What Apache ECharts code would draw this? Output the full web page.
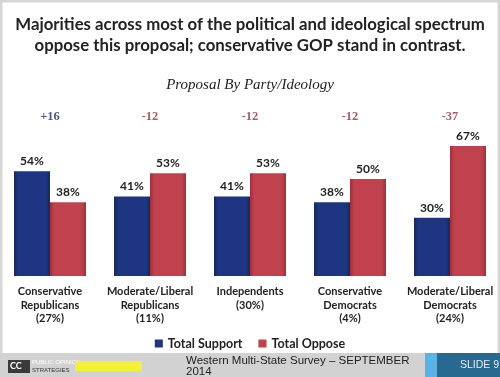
<!DOCTYPE html>
<html lang="en">
<head>
    <meta charset="UTF-8">
    <title>Proposal By Party/Ideology</title>
    <script src="https://cdn.jsdelivr.net/npm/echarts@6/dist/echarts.min.js"></script>
    <style>
        html, body { margin: 0; padding: 0; background: #fff; }
        #main { width: 500px; height: 377px; }
    </style>
</head>
<body>
<div id="main"></div>
<script>
    // 数据
    var categories = ['Conservative\nRepublicans\n(27%)', 'Moderate/Liberal\nRepublicans\n(11%)', 'Independents\n(30%)', 'Conservative\nDemocrats\n(4%)', 'Moderate/Liberal\nDemocrats\n(24%)'];
    var supportVals = [54, 41, 41, 38, 30];
    var opposeVals = [38, 53, 53, 50, 67];
    var diffVals = [16, -12, -12, -12, -37];
    var diffRow = [82, 82, 82, 82, 82];   // 差值标签所在高度

    var blueCol = '#1e3681';
    var redCol = '#c0424f';

    var myChart = echarts.init(document.getElementById('main'));

    function barColor(c1, c2) {
        return new echarts.graphic.LinearGradient(0, 0, 1, 0, [
            {offset: 0, color: c2},
            {offset: 0.12, color: c1},
            {offset: 0.88, color: c1},
            {offset: 1, color: c2}
        ]);
    }

    // 差值标签数据
    var diffData = diffRow.map(function (v, i) {
        return {
            value: v,
            label: {color: diffVals[i] > 0 ? '#1f2d66' : '#93303d'}
        };
    });

    var option = {
        animation: false,
        backgroundColor: '#fff',
        title: [
            {
                text: 'Majorities across most of the political and ideological spectrum\noppose this proposal; conservative GOP stand in contrast.',
                left: 'center', top: 9,
                textStyle: {fontFamily: 'Lato', fontWeight: 'bold', fontSize: 16.8, color: '#222', lineHeight: 21}
            },
            {
                text: 'Proposal By Party/Ideology',
                left: 'center', top: 73,
                textStyle: {fontFamily: 'Liberation Serif', fontStyle: 'italic', fontWeight: 'normal', fontSize: 15, color: '#222'}
            }
        ],
        legend: {
            top: 332, left: 'center',
            itemWidth: 8, itemHeight: 8, itemGap: 16,
            icon: 'rect',
            data: ['Total Support', 'Total Oppose'],
            textStyle: {fontFamily: 'Lato', fontWeight: 'bold', fontSize: 12.5, color: '#222'}
        },
        grid: {left: 0, right: 0, top: 82, bottom: 101},
        xAxis: {
            type: 'category',
            data: categories,
            axisLine: {show: false},
            axisTick: {show: false},
            axisLabel: {
                margin: 9, fontFamily: 'Lato', fontWeight: 'bold', fontSize: 11,
                color: '#222', lineHeight: 13.5, interval: 0
            }
        },
        yAxis: {
            type: 'value', min: 0, max: 100, show: false,
            splitLine: {show: false}
        },
        series: [
            {
                name: 'Total Support', type: 'bar', data: supportVals,
                barWidth: 36, barGap: '0%',
                itemStyle: {color: barColor(blueCol, '#14285f')},
                label: {show: true, position: 'top', distance: 4, formatter: '{c}%',
                    fontFamily: 'Lato', fontWeight: 'bold', fontSize: 12, color: '#222'}
            },
            {
                name: 'Total Oppose', type: 'bar', data: opposeVals,
                barWidth: 36, barGap: '0%',
                itemStyle: {color: barColor(redCol, '#9c2f3b')},
                label: {show: true, position: 'top', distance: 4, formatter: '{c}%',
                    fontFamily: 'Lato', fontWeight: 'bold', fontSize: 12, color: '#222'}
            },
            {
                type: 'scatter', data: diffData, symbolSize: 0, silent: true,
                label: {
                    show: true, position: 'inside',
                    fontFamily: 'Liberation Serif', fontWeight: 'bold', fontSize: 12.5,
                    formatter: function (p) {
                        var d = diffVals[p.dataIndex];
                        return d > 0 ? '+' + d : '' + d;
                    }
                }
            }
        ],
        graphic: [
            // 边框
            {type: 'rect', shape: {x: 0, y: 0, width: 500, height: 377}, style: {fill: 'none', stroke: '#d6d6d6', lineWidth: 5}, silent: true},
            // 页脚
            {type: 'rect', shape: {x: 0, y: 353, width: 500, height: 24}, style: {fill: '#d2d2d2'}},
            {type: 'rect', shape: {x: 8, y: 360, width: 22, height: 13}, style: {fill: '#3a3a3a'}},
            {type: 'text', x: 10, y: 362, style: {text: 'CC', fill: '#fff', font: 'bold 9px Lato'}},
            {type: 'text', x: 32, y: 359, style: {text: 'PUBLIC OPINION', fill: '#fff', font: '6px "Liberation Sans"'}},
            {type: 'text', x: 32, y: 367, style: {text: 'STRATEGIES', fill: '#333', font: '6px "Liberation Sans"'}},
            {type: 'rect', shape: {x: 75, y: 361, width: 67, height: 10}, style: {fill: '#f4f033'}},
            {type: 'text', x: 186, y: 355, style: {text: 'Western Multi-State Survey \u2013 SEPTEMBER\n2014', fill: '#222', font: '11.5px "Liberation Sans"', lineHeight: 11}},
            {type: 'rect', shape: {x: 425, y: 353, width: 12, height: 24}, style: {fill: '#5cb2e2'}},
            {type: 'rect', shape: {x: 437, y: 353, width: 63, height: 24}, style: {fill: '#27698f'}},
            {type: 'text', x: 460, y: 360, style: {text: 'SLIDE 9', fill: '#e6eef3', font: '10.5px "Liberation Sans"'}}
        ]
    };
    myChart.setOption(option);
</script>
</body>
</html>
